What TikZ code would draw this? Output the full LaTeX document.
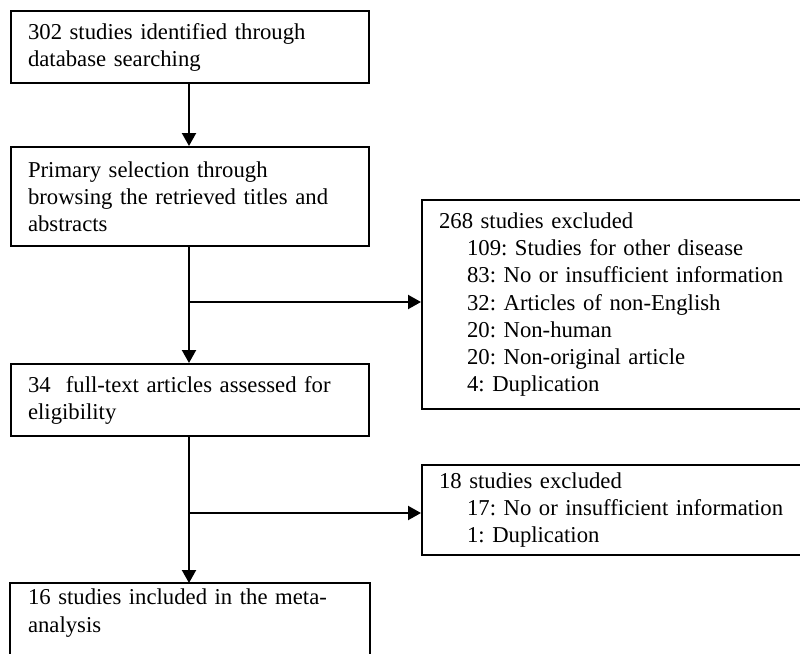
\documentclass[tikz,border=0pt]{standalone}
\usepackage{fontspec}
\setmainfont{Liberation Serif}
\usetikzlibrary{arrows.meta}
\begin{document}
\frenchspacing
\begin{tikzpicture}[x=1pt,y=-1pt,
  every node/.style={font=\fontsize{22.7}{27.1}\selectfont},
  flowbox/.style={draw=black,line width=2.1pt,anchor=north west,align=left,
    inner xsep=17pt,inner ysep=0pt,text width=#1},
  flowbox/.default=324pt,
  arr/.style={line width=2.1pt,-{Triangle[length=13pt,width=14pt]}}]
\useasboundingbox[fill=white] (0,0) rectangle (800,653);
\node[flowbox,minimum height=72pt] (b1) at (10,10)
  {302 studies identified through\\database searching};
\node[flowbox,minimum height=99pt] (b2) at (10,146)
  {Primary selection through\\browsing the retrieved titles and\\abstracts};
\node[flowbox=375pt,minimum height=209pt] (b3) at (421,199)
  {268 studies excluded\\
   \hspace*{28pt}109: Studies for other disease\\
   \hspace*{28pt}83: No or insufficient information\\
   \hspace*{28pt}32: Articles of non-English\\
   \hspace*{28pt}20: Non-human\\
   \hspace*{28pt}20: Non-original article\\
   \hspace*{28pt}4: Duplication};
\node[flowbox,minimum height=72pt] (b4) at (10,363)
  {34~ full-text articles assessed for\\eligibility};
\node[flowbox=375pt,minimum height=90pt] (b5) at (421,464)
  {18 studies excluded\\
   \hspace*{28pt}17: No or insufficient information\\
   \hspace*{28pt}1: Duplication};
\node[flowbox,draw=none,minimum height=58pt] (b6) at (10,583)
  {16 studies included in the meta-\\analysis};
\draw[line width=2.1pt] (b6.north west) rectangle ([yshift=-20pt]b6.south east);
\coordinate (j1) at (189,302);
\coordinate (j2) at (189,513);
\draw[arr] (b1.south -| j1) -- (b2.north -| j1);
\draw[arr] (b2.south -| j1) -- (b4.north -| j1);
\draw[arr] (j1) -- (j1 -| b3.west);
\draw[arr] (b4.south -| j2) -- (b6.north -| j2);
\draw[arr] (j2) -- (j2 -| b5.west);
\end{tikzpicture}
\end{document}
